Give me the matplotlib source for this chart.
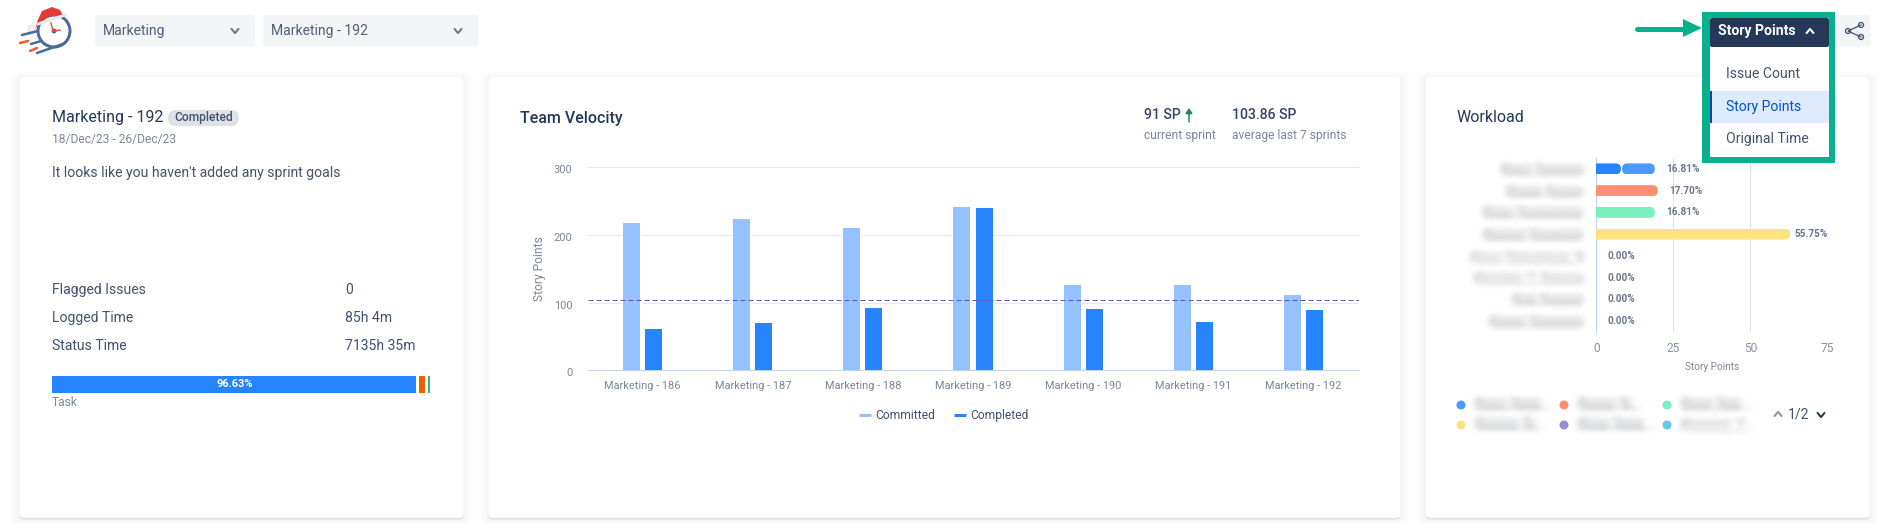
import numpy as np
import matplotlib
matplotlib.use('Agg')
import matplotlib.pyplot as plt
from matplotlib.lines import Line2D
from matplotlib.patches import FancyBboxPatch, Rectangle, Circle, Polygon
from matplotlib.transforms import IdentityTransform, ScaledTranslation

W, H = 1893, 523
plt.rcParams['font.family'] = ['Roboto', 'DejaVu Sans']

# team velocity
sprints = ['Marketing - 186', 'Marketing - 187', 'Marketing - 188', 'Marketing - 189',
           'Marketing - 190', 'Marketing - 191', 'Marketing - 192']
committed = [218, 224, 210, 241, 126, 126, 111]
completed = [61, 70, 92, 240, 91, 71, 89]
average = 103.86

# workload, the names are blurred in the reference so these are only masks
names = ['Xxxxx Xxxxxxxx', 'Xxxxxx Xxxxxx', 'Xxxxx Xxxxxxxxxxx', 'Xxxxxxx Xxxxxxxxx',
         'Xxxxx Xxxxxxxxxxx, X', 'Xxxxxxxx, X, Xxxxxxx', 'Xxxx Xxxxxxx', 'Xxxxxx Xxxxxxxxx']
load_first = [8, 20, 19, 63, 0, 0, 0, 0]
load_second = [11, 0, 0, 0, 0, 0, 0, 0]
load_pct = ['16.81%', '17.70%', '16.81%', '55.75%', '0.00%', '0.00%', '0.00%', '0.00%']
load_colors = ['#2684FF', '#FF8F73', '#79F2C0', '#FFE380', '#998DD9', '#5FCDE4', '#2684FF', '#FF8F73']
legend_colors = ['#4C9AFF', '#FF8F73', '#79F2C0', '#FFE380', '#998DD9', '#5FCDE4']
legend_names = ['Xxxxx Xxxxx...', 'Xxxxxx Xx...', 'Xxxxx Xxxx...', 'Xxxxxxx Xx...', 'Xxxxx Xxxxx...', 'Xxxxxxxx, X...']

# status time bar
status_values = [96.63, 2.4, 0.97]
status_colors = ['#2684FF', '#F06000', '#36B37E']

DARK = '#253858'
TEXT = '#42526E'
MUTED = '#7A869A'


def px(size):
    # css pixels to points
    return size * 72 / 100


def axes_at(x0, y0, x1, y1, **kw):
    return fig.add_axes([x0 / W, 1 - y1 / H, (x1 - x0) / W, (y1 - y0) / H], **kw)


def blur(img, dpi, r=3):
    pad = r * 3
    out = np.pad(img, ((pad, pad), (pad, pad), (0, 0)))
    for axis in (0, 1):
        for _ in range(3):
            out = sum(np.roll(out, k, axis) for k in range(-r, r + 1)) / (2 * r + 1)
    return out, -pad, -pad


def card(ax, x0, y0, x1, y1):
    for i in range(9, 0, -1):
        ax.add_patch(FancyBboxPatch((x0 - i, y0 - i + 4), x1 - x0 + 2 * i, y1 - y0 + 2 * i,
                                    boxstyle='round,pad=0,rounding_size=6', fc='#091E42', ec='none', alpha=0.004))
    ax.add_patch(FancyBboxPatch((x0, y0 + 1.5), x1 - x0, y1 - y0, boxstyle='round,pad=0,rounding_size=5',
                                fc='#091E42', ec='none', alpha=0.12))
    ax.add_patch(FancyBboxPatch((x0, y0), x1 - x0, y1 - y0, boxstyle='round,pad=0,rounding_size=5',
                                fc='white', ec='#F1F2F4', lw=0.7))


def box(ax, x0, y0, x1, y1, color, r=3):
    ax.add_patch(FancyBboxPatch((x0, y0), x1 - x0, y1 - y0, boxstyle=f'round,pad=0,rounding_size={r}',
                                fc=color, ec='none'))


def chevron(ax, x, y, color=TEXT, up=False, size=3.5):
    d = -size * 0.6 if up else size * 0.6
    ax.plot([x - size, x, x + size], [y - d, y + d, y - d], color=color, lw=px(2),
            solid_capstyle='round', solid_joinstyle='round')


def label(ax, x, y, s, size=14, color=TEXT, **kw):
    kw.setdefault('va', 'center')
    return ax.text(x, y + 1.5, s, fontsize=px(size), color=color, **kw)


fig = plt.figure(figsize=(W / 100, H / 100), dpi=100, facecolor='white')

# page, cards and header
bg = fig.add_axes([0, 0, 1, 1], zorder=0)
bg.set_xlim(0, W)
bg.set_ylim(H, 0)
bg.axis('off')
card(bg, 19, 76, 464, 518)
card(bg, 488, 76, 1401, 518)
card(bg, 1425, 76, 1870, 518)

box(bg, 95, 15, 255, 47, '#F4F5F7')
box(bg, 263, 15, 478, 47, '#F4F5F7')
label(bg, 103, 29.5, 'Marketing', color='#505F79')
label(bg, 271, 29.5, 'Marketing - 192', color='#505F79')
chevron(bg, 235, 31, '#6B778C')
chevron(bg, 458, 31, '#6B778C')

# logo
bg.add_patch(Circle((54, 31), 16, fc='white', ec='#4A6A9A', lw=px(3)))
bg.add_patch(Polygon([[37, 22], [42, 11], [52, 7], [60, 10], [64, 17], [52, 16], [42, 20], [36, 28]], fc='#E53935', ec='none'))
bg.plot([38, 65], [24, 15], color='#E8E8E8', lw=px(3), solid_capstyle='round')
bg.add_patch(Circle((32, 29), 4, fc='#F2F2F2', ec='#D5D5D5', lw=0.5))
bg.add_patch(Circle((54, 31), 2.5, fc='#4A6A9A', ec='none'))
bg.plot([51, 53], [23, 31], color='#E9573F', lw=px(1.5))
bg.plot([54, 60], [31, 30], color='#E9573F', lw=px(1.5))
for xs, ys, c in [([22, 38], [35, 31], '#4A6A9A'), ([31, 41], [44, 41], '#4A6A9A'), ([37, 63], [53, 44], '#4A6A9A'),
                  ([20, 28], [43, 41], '#F4592D'), ([30, 37], [51, 48], '#F4592D')]:
    bg.plot(xs, ys, color=c, lw=px(2.5), solid_capstyle='round')

# share button
box(bg, 1838, 15, 1870, 47, '#F4F5F7')
bg.plot([1861, 1848, 1861], [25, 31, 37], color=TEXT, lw=px(1.3))
for cx, cy in [(1861, 25), (1848, 31), (1861, 37)]:
    bg.add_patch(Circle((cx, cy), 2.5, fc='#F4F5F7', ec=TEXT, lw=px(1.3)))

# sprint card
label(bg, 51.5, 116, 'Marketing - 192', size=16, color=DARK)
box(bg, 168, 110, 239, 126, '#DFE1E6', r=8)
label(bg, 203.5, 116.5, 'Completed', size=12, color=TEXT, ha='center', fontweight='medium')
label(bg, 51.5, 138, '18/Dec/23 - 26/Dec/23', size=12, color=MUTED)
label(bg, 51.5, 171, "It looks like you haven't added any sprint goals")
rows = [('Flagged Issues', '0'), ('Logged Time', '85h 4m'), ('Status Time', '7135h 35m')]
for i, (k, v) in enumerate(rows):
    label(bg, 51.5, 288.7 + 28 * i, k)
    label(bg, 345, 288.7 + 28 * i, v)
label(bg, 51.5, 401, 'Task', size=12, color=MUTED)

# status bar
st = axes_at(52, 376, 430, 393)
st.barh([0], status_values, left=[0, status_values[0], status_values[0] + status_values[1]],
        height=1, color=status_colors)
st.vlines(np.cumsum(status_values)[:-1], -1, 1, color='white', lw=px(3))
st.set_xlim(0, 100)
st.set_ylim(-0.5, 0.5)
st.axis('off')
st.text(status_values[0] / 2, 0.05, '96.63%', color='white', fontsize=px(11), fontweight='bold', ha='center', va='center')

# velocity card header
label(bg, 520, 116.5, 'Team Velocity', size=16, color=DARK, fontweight='medium')
label(bg, 1144, 113.5, '91 SP', color='#344563', fontweight='medium')
bg.annotate('', xy=(1189, 108), xytext=(1189, 122),
            arrowprops=dict(arrowstyle='-|>,head_width=0.2,head_length=0.3', color='#1F845A', lw=px(1.5), shrinkA=0, shrinkB=0))
label(bg, 1144, 133.5, 'current sprint', size=12, color=MUTED)
label(bg, 1232, 113.5, '103.86 SP', color='#344563', fontweight='medium')
label(bg, 1232, 133.5, 'average last 7 sprints', size=12, color=MUTED)

# velocity chart
ax = axes_at(587.5, 167.3, 1358.5, 370.3, facecolor='none', zorder=2)
x = np.arange(len(sprints))
bar_w = 17 / 110.14
off = 11 / 110.14
mask_w = 20 / 110.14
ax.bar(x - off, committed, width=mask_w, color='white', zorder=2)
ax.bar(x + off, completed, width=mask_w, color='white', zorder=2)
ax.bar(x - off, committed, width=bar_w, color='#94C1FF', zorder=3, label='Committed')
ax.bar(x + off, completed, width=bar_w, color='#2684FF', zorder=3, label='Completed')
ax.axhline(average, color='#6554C0', lw=px(1), dashes=(5, 3), zorder=4)
ax.set_xlim(-0.5, 6.5)
ax.set_ylim(0, 300)
ax.set_yticks([0, 100, 200, 300])
ax.set_xticks(x, sprints)
ax.grid(axis='y', color='#E4E6EA', lw=px(1), zorder=1)
ax.set_axisbelow(True)
for s in ['top', 'left', 'right']:
    ax.spines[s].set_visible(False)
ax.spines['bottom'].set_color('#C1D2EC')
ax.spines['bottom'].set_linewidth(px(1))
ax.spines['bottom'].set_zorder(5)
ax.tick_params(axis='both', length=0, labelsize=px(11), labelcolor=MUTED)
ax.tick_params(axis='y', pad=px(15))
ax.tick_params(axis='x', pad=px(11))
down = ScaledTranslation(0, -2 / 100, fig.dpi_scale_trans)
for t in ax.get_yticklabels():
    t.set_transform(t.get_transform() + down)
ax.set_ylabel('Story Points', fontsize=px(12), color=MUTED)
ax.yaxis.set_label_coords((547 - 588) / 771, 0.5)
handles = [Line2D([], [], color='#94C1FF', lw=px(3), solid_capstyle='butt'),
           Line2D([], [], color='#2684FF', lw=px(3), solid_capstyle='butt')]
ax.legend(handles, ['Committed', 'Completed'], ncols=2, frameon=False, loc='center',
          bbox_to_anchor=(0.5 - 29 / 771, -0.225), fontsize=px(12), labelcolor=TEXT, handlelength=1.0,
          handletextpad=0.35, columnspacing=1.6, borderpad=0)

# workload card
label(bg, 1457, 116.5, 'Workload', size=16, color=DARK)
wl = axes_at(1596.3, 158, 1827.3, 332, facecolor='none', zorder=2)
y = np.arange(len(names))
wl.set_xlim(0, 75)
wl.set_ylim(len(names) - 0.5, -0.5)
bh = 11 / 21.75
first = wl.barh(y, load_first, height=bh, color=load_colors, zorder=3)
second = wl.barh(y, load_second, left=load_first, height=bh, color='#4C9AFF', zorder=3)


def round_right(rect, left_extra):
    # rounded clip in pixels, the extra part hides the rounding on the left end
    (x0, y0), (x1, y1) = wl.transData.transform([(rect.get_x(), rect.get_y()),
                                                 (rect.get_x() + rect.get_width(), rect.get_y() + rect.get_height())])
    y0, y1 = min(y0, y1), max(y0, y1)
    rect.set_clip_path(FancyBboxPatch((x0 - left_extra, y0), x1 - x0 + left_extra, y1 - y0,
                                      boxstyle='round,pad=0,rounding_size=5.5', transform=IdentityTransform()))


for rect in first:
    if rect.get_width() > 0:
        round_right(rect, 8)
for rect in second:
    if rect.get_width() > 0:
        round_right(rect, -1)

totals = [a + b for a, b in zip(load_first, load_second)]
for i, t in enumerate(totals):
    # the long bar keeps its label inside the plot
    gap = 4 if t > 50 else 11
    wl.annotate(load_pct[i], (t, i), xytext=(px(gap), 0), textcoords='offset points', va='center',
                fontsize=px(10), fontweight='bold', color='#6B778C', zorder=4)
wl.set_xticks([0, 25, 50, 75])
wl.set_yticks(y, names)
wl.grid(axis='x', color='#DFE1E6', lw=px(1), zorder=1)
wl.set_axisbelow(True)
for s in ['top', 'right', 'bottom']:
    wl.spines[s].set_visible(False)
wl.spines['left'].set_color('#C1D2EC')
wl.spines['left'].set_linewidth(px(1))
wl.tick_params(axis='both', length=0)
wl.tick_params(axis='x', labelsize=px(12), labelcolor='#8993A4', pad=px(10))
wl.tick_params(axis='y', labelsize=px(11.5), labelcolor='#6B778C', pad=px(14))
for t in wl.get_yticklabels():
    t.set_agg_filter(blur)
wl.set_xlabel('Story Points', fontsize=px(10), color=MUTED, labelpad=px(7))

# workload legend
for i, (c, n) in enumerate(zip(legend_colors, legend_names)):
    cx = 1461 + 103 * (i % 3)
    cy = 405 + 20 * (i // 3)
    bg.add_patch(Circle((cx, cy), 4.5, fc=c, ec='none'))
    t = label(bg, cx + 15, cy - 1.5, n, size=12, color='#6B778C')
    t.set_agg_filter(blur)
chevron(bg, 1778, 414, '#8993A4', up=True)
label(bg, 1799, 413, '1/2', color=TEXT, ha='center')
chevron(bg, 1821, 415, DARK)

# dropdown with the green highlight drawn over everything
top = fig.add_axes([0, 0, 1, 1], zorder=5, facecolor='none')
top.set_xlim(0, W)
top.set_ylim(H, 0)
top.axis('off')
top.add_patch(Rectangle((1702, 12), 133, 151, fc='#08B18D', ec='none'))
top.add_patch(Rectangle((1710, 18), 119, 139, fc='white', ec='none'))
box(top, 1710, 18, 1829, 47, DARK, r=2)
label(top, 1718, 29, 'Story Points', color='white', fontweight='bold')
chevron(top, 1810, 31, 'white', up=True)
top.add_patch(Rectangle((1710, 91), 119, 32, fc='#DEEBFF', ec='none'))
top.add_patch(Rectangle((1710, 91), 2, 32, fc='#0747A6', ec='none'))
label(top, 1726, 73, 'Issue Count')
label(top, 1726, 105, 'Story Points', color='#0052CC')
label(top, 1726, 137, 'Original Time')
top.plot([1637, 1685], [28.5, 28.5], color='#08B18D', lw=px(5), solid_capstyle='round')
top.add_patch(Polygon([[1683, 19], [1702, 28], [1683, 37]], fc='#08B18D', ec='none'))

fig.savefig('out.png', dpi=100)
